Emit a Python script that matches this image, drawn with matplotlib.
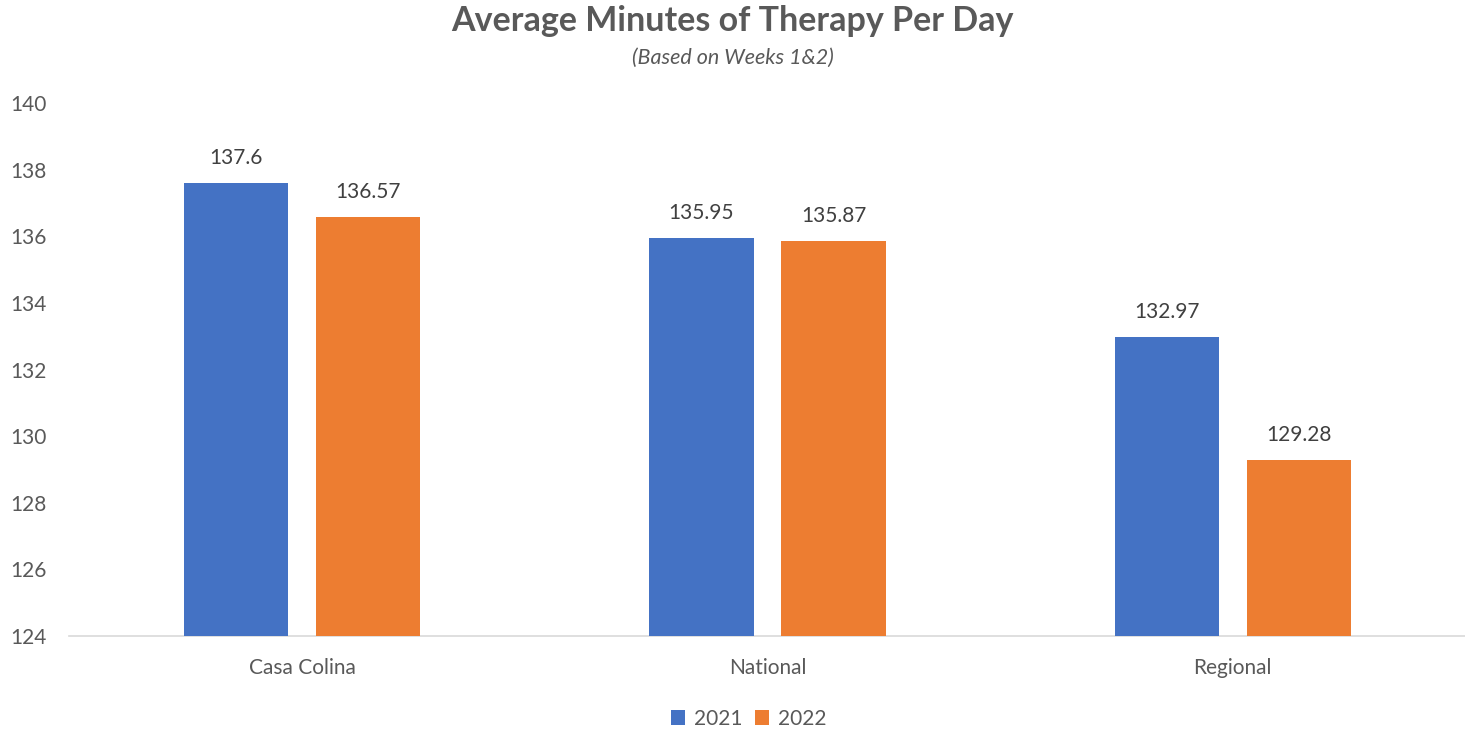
import numpy as np
import matplotlib.pyplot as plt

plt.rcParams["font.family"] = ["Lato", "DejaVu Sans"]

categories = ["Casa Colina", "National", "Regional"]
series_names = ["2021", "2022"]
values_2021 = [137.6, 135.95, 132.97]
values_2022 = [136.57, 135.87, 129.28]
value_labels_2021 = ["137.6", "135.95", "132.97"]
value_labels_2022 = ["136.57", "135.87", "129.28"]
colors = ["#4472c4", "#ed7d31"]

fig = plt.figure(figsize=(14.65, 7.32), dpi=100)
ax = fig.add_axes([69.5 / 1465, 96 / 732, 1396 / 1465, 533 / 732])

x = np.arange(len(categories))
width = 0.224
offset = 0.142
bars = []
for vals, labels, off, col, name in [
    (values_2021, value_labels_2021, -offset, colors[0], series_names[0]),
    (values_2022, value_labels_2022, offset, colors[1], series_names[1]),
]:
    b = ax.bar(x + off, np.array(vals) - 124, width, bottom=124, color=col, label=name, zorder=3)
    bars.append(b)
    for xi, v, lab in zip(x + off, vals, labels):
        ax.text(xi, v + 0.45, lab, ha="center", va="bottom", fontsize=15, color="#404040")

ax.set_xlim(-0.5, 2.5)
ax.set_ylim(124, 140)
ax.set_yticks(range(124, 141, 2))
ax.set_xticks(x)
ax.set_xticklabels(categories)
ax.tick_params(axis="both", length=0, labelsize=15, colors="#595959")
ax.tick_params(axis="x", pad=16)
for lab in ax.get_yticklabels():
    lab.set_horizontalalignment("left")
ax.yaxis.set_tick_params(pad=42.5)
for side in ["top", "right", "left"]:
    ax.spines[side].set_visible(False)
ax.spines["bottom"].set_color("#d9d9d9")
ax.spines["bottom"].set_linewidth(1.2)

fig.text(0.5, 1 - 21 / 732, "Average Minutes of Therapy Per Day", ha="center", va="center",
         fontsize=24.5, fontweight="bold", color="#595959")
fig.text(0.5, 1 - 58 / 732, "(Based on Weeks 1&2)", ha="center", va="center",
         fontsize=15.5, style="italic", color="#595959")

fig.legend(handles=bars, labels=series_names, loc="center", bbox_to_anchor=(0.5 + 16 / 1465, 1 - 719 / 732),
           ncol=2, frameon=False, fontsize=15, handlelength=0.7, handleheight=0.7,
           columnspacing=0.6, handletextpad=0.4, labelcolor="#595959")

fig.savefig("out.png", dpi=100)
